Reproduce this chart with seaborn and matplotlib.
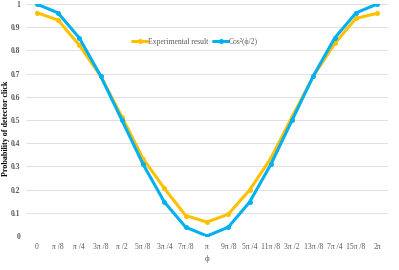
import matplotlib
matplotlib.use("Agg")
import matplotlib.pyplot as plt
import seaborn as sns
import pandas as pd
import numpy as np

phi_labels = ["0", "π /8", "π /4", "3π /8", "π /2", "5π /8", "3π /4", "7π /8", "π",
              "9π /8", "5π /4", "11π /8", "3π /2", "13π /8", "7π /4", "15π /8", "2π"]
experimental = [0.963, 0.931, 0.823, 0.690, 0.514, 0.333, 0.205, 0.088, 0.060,
                0.094, 0.198, 0.335, 0.514, 0.690, 0.830, 0.938, 0.960]
theory = [1.000, 0.962, 0.854, 0.691, 0.500, 0.309, 0.146, 0.038, 0.000,
          0.038, 0.146, 0.309, 0.500, 0.691, 0.854, 0.962, 1.000]
series_names = ["Experimental result", "Cos²(ϕ/2)"]
colors = ["#FFC000", "#00B0F0"]
y_ticks = [0, 0.1, 0.2, 0.3, 0.4, 0.5, 0.6, 0.7, 0.8, 0.9, 1]
y_tick_labels = ["0", "0.1", "0.2", "0.3", "0.4", "0.5", "0.6", "0.7", "0.8", "0.9", "1"]

sns.set_theme(style="white")
plt.rcParams['font.family'] = ['Liberation Serif', 'DejaVu Serif']

idx = np.arange(len(phi_labels))
df = pd.DataFrame({
    "x": np.concatenate([idx, idx]),
    "y": experimental + theory,
    "series": [series_names[0]] * len(idx) + [series_names[1]] * len(idx),
})

fig = plt.figure(figsize=(3.99, 2.70), dpi=100)
ax = fig.add_axes([26/399, 1 - 236/270, (388-26)/399, (236-4)/270])

sns.lineplot(data=df, x="x", y="y", hue="series", palette=colors,
             marker="o", markersize=3.6, markeredgewidth=0, linewidth=2.2,
             sort=False, ax=ax, legend=True)

ax.set_xlim(-0.5, len(phi_labels) - 0.5)
ax.set_ylim(0, 1)
ax.set_yticks(y_ticks)
ax.set_yticklabels(y_tick_labels, fontsize=5.5, color="#595959", fontweight="bold")
ax.set_xticks(idx)
ax.set_xticklabels(phi_labels, fontsize=5.5, color="#595959")
ax.tick_params(axis="y", length=0, pad=4.3)
ax.tick_params(axis="x", length=0, pad=5)
ax.grid(axis="y", color="#E0E0E0", linewidth=0.7)
ax.set_axisbelow(True)
for s in ax.spines.values():
    s.set_visible(False)
ax.set_xlabel("ϕ", fontsize=6.5, color="#595959", labelpad=3)
ax.set_ylabel("Probability of detector click", fontsize=5.8, fontweight="bold", color="black")
ax.yaxis.set_label_coords(-0.044, 0.466)

leg = ax.legend(loc="center", bbox_to_anchor=(195/399, 1 - 42/270), bbox_transform=fig.transFigure,
                ncol=2, frameon=False, fontsize=5.5, handlelength=2.0, columnspacing=0.6,
                handletextpad=0.1)
for t in leg.get_texts():
    t.set_color("#595959")

fig.savefig("out.png", dpi=100)
